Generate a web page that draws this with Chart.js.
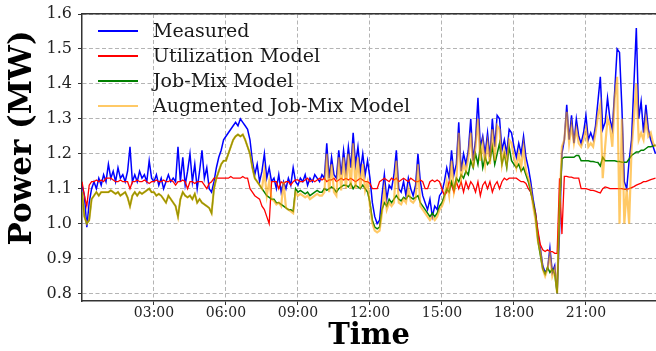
<!DOCTYPE html>
<html>
<head>
<meta charset="utf-8">
<script src="https://cdn.jsdelivr.net/npm/chart.js@4.4.0/dist/chart.umd.min.js"></script>
<style>
  html, body { margin: 0; padding: 0; background: #fff; }
  #wrap { position: relative; width: 656px; height: 351px; overflow: hidden; }
  #legend { position: absolute; left: 98px; top: 18px; font-family: 'DejaVu Serif', serif; font-size: 19px; color: #1a1a1a; }
  #legend .row { position: relative; height: 25px; line-height: 25px; white-space: nowrap; }
  #legend .swatch { position: absolute; left: 0; top: 12px; width: 40px; height: 0; border-top: 2px solid; }
  #legend .label { position: absolute; left: 55px; top: 0; }
  #ytitle { position: absolute; left: -110px; top: 123px; width: 260px; height: 30px; line-height: 30px;
            text-align: center; transform: rotate(-90deg); font-family: 'DejaVu Serif', serif;
            font-weight: bold; font-size: 31px; color: #000; white-space: nowrap; }
</style>
</head>
<body>
<div id="wrap">
  <canvas id="chart" width="656" height="351"></canvas>
  <div id="legend"></div>
  <div id="ytitle">Power (MW)</div>
</div>
<script>
// samples every 0.1 h starting at 00:00
const START_HOUR = 0;
const STEP_HOURS = 0.1;

const seriesNames = ['Measured', 'Utilization Model', 'Job-Mix Model', 'Augmented Job-Mix Model'];

const measured = [
  1.11, 1.08, 0.99, 1.06, 1.10, 1.12, 1.10, 1.13, 1.11, 1.14,
  1.12, 1.17, 1.13, 1.15, 1.12, 1.16, 1.13, 1.14, 1.12, 1.15,
  1.22, 1.12, 1.14, 1.12, 1.15, 1.13, 1.14, 1.12, 1.18, 1.13,
  1.12, 1.14, 1.11, 1.13, 1.10, 1.12, 1.14, 1.12, 1.13, 1.12,
  1.22, 1.12, 1.19, 1.11, 1.15, 1.20, 1.12, 1.17, 1.10, 1.15,
  1.21, 1.13, 1.16, 1.10, 1.09, 1.12, 1.16, 1.19, 1.21, 1.24,
  1.25, 1.26, 1.27, 1.28, 1.29, 1.28, 1.30, 1.29, 1.28, 1.27,
  1.24, 1.18, 1.14, 1.17, 1.12, 1.15, 1.20, 1.13, 1.16, 1.12,
  1.13, 1.10, 1.14, 1.09, 1.12, 1.10, 1.13, 1.11, 1.16, 1.12,
  1.11, 1.13, 1.12, 1.14, 1.11, 1.13, 1.12, 1.14, 1.13, 1.12,
  1.14, 1.13, 1.23, 1.13, 1.19, 1.14, 1.13, 1.21, 1.14, 1.21,
  1.15, 1.22, 1.16, 1.26, 1.17, 1.22, 1.15, 1.20, 1.14, 1.18,
  1.13, 1.06, 1.02, 1.00, 1.01, 1.08, 1.14, 1.07, 1.11, 1.10,
  1.14, 1.21, 1.10, 1.09, 1.12, 1.08, 1.13, 1.10, 1.08, 1.11,
  1.20, 1.12, 1.08, 1.06, 1.04, 1.07, 1.02, 1.05, 1.04, 1.08,
  1.09, 1.12, 1.16, 1.13, 1.21, 1.14, 1.17, 1.29, 1.15, 1.20,
  1.17, 1.21, 1.30, 1.18, 1.24, 1.36, 1.22, 1.25, 1.20, 1.26,
  1.19, 1.30, 1.22, 1.31, 1.30, 1.21, 1.24, 1.20, 1.27, 1.26,
  1.22, 1.19, 1.23, 1.20, 1.25, 1.19, 1.16, 1.12, 1.07, 1.03,
  0.97, 0.93, 0.88, 0.86, 0.87, 0.93, 0.86, 0.88, 0.80, 0.98,
  1.20, 1.24, 1.34, 1.24, 1.31, 1.23, 1.30, 1.25, 1.23, 1.26,
  1.31, 1.24, 1.26, 1.24, 1.28, 1.35, 1.42, 1.27, 1.29, 1.36,
  1.30, 1.27, 1.38, 1.50, 1.49, 1.33, 1.12, 1.10, 1.18, 1.24,
  1.40, 1.56, 1.30, 1.35, 1.26, 1.34, 1.27, 1.24, 1.22, 1.20
];

const utilization = [
  1.12, 1.08, 1.05, 1.11, 1.12, 1.12, 1.125, 1.12, 1.125, 1.12,
  1.13, 1.13, 1.13, 1.125, 1.12, 1.12, 1.125, 1.12, 1.12, 1.12,
  1.10, 1.12, 1.12, 1.125, 1.12, 1.12, 1.125, 1.12, 1.115, 1.12,
  1.12, 1.125, 1.12, 1.12, 1.125, 1.12, 1.12, 1.125, 1.12, 1.11,
  1.12, 1.12, 1.125, 1.12, 1.10, 1.12, 1.12, 1.115, 1.12, 1.12,
  1.12, 1.11, 1.10, 1.115, 1.12, 1.13, 1.13, 1.13, 1.13, 1.13,
  1.13, 1.13, 1.135, 1.13, 1.13, 1.13, 1.13, 1.135, 1.13, 1.13,
  1.10, 1.09, 1.08, 1.075, 1.07, 1.05, 1.04, 1.02, 1.00, 1.12,
  1.12, 1.12, 1.10, 1.12, 1.115, 1.12, 1.12, 1.11, 1.12, 1.125,
  1.125, 1.12, 1.12, 1.125, 1.13, 1.12, 1.125, 1.12, 1.125, 1.13,
  1.125, 1.13, 1.12, 1.125, 1.125, 1.13, 1.12, 1.125, 1.13, 1.125,
  1.13, 1.125, 1.13, 1.125, 1.12, 1.125, 1.13, 1.125, 1.12, 1.12,
  1.115, 1.10, 1.10, 1.10, 1.12, 1.125, 1.13, 1.125, 1.12, 1.13,
  1.125, 1.13, 1.12, 1.125, 1.13, 1.125, 1.12, 1.13, 1.125, 1.12,
  1.12, 1.125, 1.12, 1.10, 1.10, 1.12, 1.125, 1.12, 1.125, 1.12,
  1.10, 1.08, 1.09, 1.12, 1.11, 1.09, 1.12, 1.10, 1.12, 1.09,
  1.12, 1.10, 1.12, 1.11, 1.09, 1.12, 1.08, 1.11, 1.12, 1.10,
  1.12, 1.09, 1.11, 1.12, 1.10, 1.12, 1.13, 1.125, 1.13, 1.13,
  1.13, 1.13, 1.125, 1.12, 1.12, 1.115, 1.10, 1.09, 1.06, 1.03,
  0.98, 0.94, 0.925, 0.92, 0.925, 0.92, 0.92, 0.915, 0.915, 1.13,
  0.97, 1.135, 1.135, 1.133, 1.133, 1.13, 1.13, 1.13, 1.10, 1.10,
  1.10, 1.098, 1.095, 1.095, 1.093, 1.09, 1.088, 1.10, 1.105, 1.103,
  1.10, 1.10, 1.10, 1.10, 1.10, 1.10, 1.098, 1.098, 1.10, 1.103,
  1.106, 1.11, 1.113, 1.116, 1.12, 1.12, 1.123, 1.126, 1.128, 1.13
];

const jobMix = [
  1.09, 1.02, 1.00, 1.01, 1.07, 1.08, 1.09, 1.08, 1.09, 1.09,
  1.09, 1.09, 1.095, 1.09, 1.085, 1.09, 1.08, 1.085, 1.09, 1.075,
  1.05, 1.08, 1.09, 1.08, 1.09, 1.085, 1.09, 1.095, 1.10, 1.09,
  1.09, 1.08, 1.085, 1.08, 1.07, 1.06, 1.08, 1.07, 1.06, 1.05,
  1.02, 1.07, 1.09, 1.08, 1.075, 1.08, 1.07, 1.085, 1.06, 1.07,
  1.06, 1.055, 1.05, 1.045, 1.03, 1.10, 1.13, 1.15, 1.17, 1.18,
  1.18, 1.20, 1.22, 1.24, 1.25, 1.255, 1.25, 1.255, 1.24, 1.22,
  1.20, 1.16, 1.13, 1.12, 1.11, 1.10, 1.09, 1.08, 1.075, 1.07,
  1.07, 1.06, 1.06, 1.055, 1.05, 1.045, 1.04, 1.04, 1.035, 1.10,
  1.09, 1.095, 1.09, 1.085, 1.09, 1.08, 1.085, 1.09, 1.095, 1.09,
  1.09, 1.10, 1.095, 1.10, 1.105, 1.10, 1.09, 1.10, 1.105, 1.11,
  1.11, 1.105, 1.115, 1.10, 1.11, 1.105, 1.10, 1.11, 1.10, 1.09,
  1.06, 1.01, 0.99, 0.985, 0.99, 1.04, 1.06, 1.05, 1.07, 1.06,
  1.07, 1.08, 1.07, 1.065, 1.075, 1.07, 1.08, 1.075, 1.07, 1.075,
  1.08, 1.06, 1.05, 1.04, 1.03, 1.02, 1.03, 1.02, 1.03, 1.05,
  1.06, 1.08, 1.10, 1.09, 1.12, 1.10, 1.13, 1.12, 1.14, 1.13,
  1.15, 1.14, 1.18, 1.16, 1.20, 1.17, 1.22, 1.16, 1.19, 1.17,
  1.18, 1.22, 1.17, 1.20, 1.23, 1.17, 1.20, 1.16, 1.22, 1.18,
  1.17, 1.16, 1.17, 1.15, 1.16, 1.14, 1.12, 1.09, 1.06, 1.02,
  0.95, 0.91, 0.87, 0.855, 0.875, 0.86, 0.87, 0.855, 0.80, 1.05,
  1.185, 1.19, 1.19, 1.19, 1.19, 1.19, 1.195, 1.195, 1.18, 1.18,
  1.18, 1.18, 1.178, 1.178, 1.176, 1.175, 1.165, 1.19, 1.18, 1.18,
  1.18, 1.18, 1.18, 1.178, 1.178, 1.176, 1.176, 1.176, 1.185, 1.195,
  1.20, 1.205, 1.205, 1.21, 1.21, 1.215, 1.22, 1.22, 1.222, 1.225
];

const augmented = [
  1.09, 1.02, 1.00, 1.01, 1.07, 1.08, 1.09, 1.08, 1.09, 1.09,
  1.09, 1.09, 1.095, 1.09, 1.085, 1.09, 1.08, 1.085, 1.09, 1.075,
  1.05, 1.08, 1.09, 1.08, 1.09, 1.085, 1.09, 1.095, 1.10, 1.09,
  1.09, 1.08, 1.085, 1.08, 1.07, 1.06, 1.08, 1.07, 1.06, 1.05,
  1.02, 1.07, 1.09, 1.08, 1.075, 1.08, 1.07, 1.085, 1.06, 1.07,
  1.06, 1.055, 1.05, 1.045, 1.03, 1.10, 1.13, 1.15, 1.17, 1.18,
  1.18, 1.20, 1.22, 1.24, 1.25, 1.255, 1.25, 1.255, 1.24, 1.22,
  1.20, 1.16, 1.13, 1.12, 1.11, 1.10, 1.15, 1.08, 1.12, 1.07,
  1.065, 1.055, 1.06, 1.05, 1.12, 1.045, 1.04, 1.035, 1.03, 1.09,
  1.08, 1.085, 1.08, 1.075, 1.08, 1.07, 1.075, 1.08, 1.085, 1.08,
  1.08, 1.09, 1.20, 1.09, 1.17, 1.09, 1.08, 1.19, 1.095, 1.19,
  1.10, 1.20, 1.10, 1.23, 1.10, 1.19, 1.10, 1.17, 1.095, 1.12,
  1.05, 1.00, 0.98, 0.975, 0.98, 1.03, 1.10, 1.04, 1.06, 1.05,
  1.06, 1.18, 1.06, 1.055, 1.07, 1.06, 1.10, 1.065, 1.06, 1.07,
  1.17, 1.05, 1.04, 1.03, 1.02, 1.01, 1.02, 1.01, 1.02, 1.04,
  1.05, 1.07, 1.12, 1.08, 1.18, 1.09, 1.12, 1.26, 1.13, 1.17,
  1.15, 1.19, 1.26, 1.16, 1.22, 1.30, 1.18, 1.23, 1.17, 1.23,
  1.17, 1.27, 1.18, 1.28, 1.27, 1.17, 1.21, 1.17, 1.24, 1.23,
  1.19, 1.16, 1.20, 1.16, 1.22, 1.15, 1.13, 1.10, 1.05, 1.01,
  0.95, 0.92, 0.87, 0.85, 0.87, 0.91, 0.85, 0.87, 0.80, 1.05,
  1.22, 1.24, 1.32, 1.23, 1.28, 1.23, 1.27, 1.23, 1.22, 1.24,
  1.27, 1.22, 1.23, 1.22, 1.26, 1.31, 1.34, 1.13, 1.22, 1.30,
  1.28, 1.22, 1.36, 1.42, 1.00, 1.30, 1.00, 1.10, 1.00, 1.21,
  1.30, 1.40, 1.24, 1.26, 1.24, 1.30, 1.25, 1.26, 1.23, 1.22
];

const xTickHours = [3, 6, 9, 12, 15, 18, 21];
const xTickLabels = ['03:00', '06:00', '09:00', '12:00', '15:00', '18:00', '21:00'];
const yTicks = [0.8, 0.9, 1.0, 1.1, 1.2, 1.3, 1.4, 1.5, 1.6];

const colors = ['#0000ff', '#ff0000', '#008000', 'rgba(255,165,0,0.6)'];
const widths = [1.5, 1.3, 1.5, 2.2];
const FONT = "'DejaVu Serif', serif";

function toPoints(values) {
  return values.map((v, i) => ({ x: START_HOUR + i * STEP_HOURS, y: v }));
}

const allSeries = [measured, utilization, jobMix, augmented];
const datasets = allSeries.map((vals, k) => ({
  label: seriesNames[k],
  data: toPoints(vals),
  borderColor: colors[k],
  borderWidth: widths[k],
  pointRadius: 0,
  tension: 0,
  fill: false,
  order: 4 - k,
}));

const gridColor = '#b4b4b4';
const spineColor = '#333333';

new Chart(document.getElementById('chart'), {
  type: 'line',
  data: { datasets },
  options: {
    responsive: false,
    animation: false,
    events: [],
    layout: { padding: { top: 7, right: 0, left: 0, bottom: 0 } },
    plugins: { legend: { display: false }, tooltip: { enabled: false } },
    scales: {
      x: {
        type: 'linear',
        min: 0,
        max: 23.92,
        afterBuildTicks: (s) => { s.ticks = xTickHours.map((v) => ({ value: v })); },
        afterFit: (s) => { s.height = 50; },
        ticks: {
          autoSkip: false,
          maxRotation: 0,
          color: '#222',
          font: { family: FONT, size: 14, lineHeight: 1 },
          padding: 1,
          callback: (v) => xTickLabels[xTickHours.indexOf(v)],
        },
        grid: { color: gridColor, lineWidth: 1, tickLength: 4, tickColor: spineColor, tickWidth: 1 },
        border: { display: true, color: spineColor, width: 1.5, dash: [4, 2.5] },
        title: { display: true, text: 'Time', color: '#000', font: { family: FONT, size: 29, weight: 'bold', lineHeight: 1 }, padding: { top: 5, bottom: 0 } },
      },
      xTop: {
        type: 'linear',
        position: 'top',
        min: 0,
        max: 23.92,
        afterBuildTicks: (s) => { s.ticks = []; },
        afterFit: (s) => { s.height = 0; },
        ticks: { display: false },
        grid: { drawOnChartArea: false, drawTicks: false },
        border: { display: true, color: spineColor, width: 1.5 },
      },
      y: {
        min: 0.7785,
        max: 1.6,
        afterBuildTicks: (s) => { s.ticks = yTicks.map((v) => ({ value: v })); },
        afterFit: (s) => { s.width = 82; },
        ticks: {
          color: '#222',
          font: { family: FONT, size: 16, lineHeight: 1 },
          padding: 6,
          callback: (v) => v.toFixed(1),
        },
        grid: { color: gridColor, lineWidth: 1, tickLength: 4, tickColor: spineColor, tickWidth: 1 },
        border: { display: true, color: spineColor, width: 1.5, dash: [4, 2.5] },
      },
    },
  },
});

// legend overlay in the upper-left corner of the plot
const legendEl = document.getElementById('legend');
seriesNames.forEach((name, k) => {
  const row = document.createElement('div');
  row.className = 'row';
  row.innerHTML = `<span class="swatch" style="border-top-color:${colors[k]}"></span><span class="label">${name}</span>`;
  legendEl.appendChild(row);
});
</script>
</body>
</html>
